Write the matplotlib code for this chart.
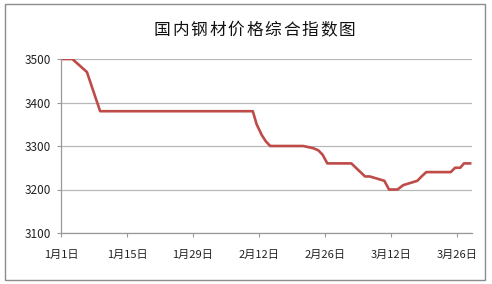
import matplotlib
matplotlib.use("Agg")
import matplotlib.pyplot as plt
from matplotlib.patches import Rectangle

plt.rcParams['font.family'] = ['Noto Sans CJK SC', 'DejaVu Sans']

title = "国内钢材价格综合指数图"
days = [0, 2.4, 5.5, 8.3, 40.7, 41.5, 42.6, 43.5, 44.4, 51.4, 53.5, 54.6, 55.5, 56.5,
        61.6, 64.5, 65.5, 68.6, 69.6, 71.4, 72.6, 75.6, 76.5, 77.5, 82.7, 83.6, 84.7, 85.5, 86.8]
values = [3500, 3500, 3470, 3380, 3380, 3350, 3325, 3310, 3300, 3300, 3295, 3290, 3280, 3260,
          3260, 3230, 3230, 3220, 3200, 3200, 3210, 3220, 3230, 3240, 3240, 3250, 3250, 3260, 3260]
tick_days = [0, 14, 28, 42, 56, 70, 84]
tick_labels = ["1月1日", "1月15日", "1月29日", "2月12日", "2月26日", "3月12日", "3月26日"]
y_ticks = [3100, 3200, 3300, 3400, 3500]

fig = plt.figure(figsize=(4.92, 2.84), dpi=100)
fig.patches.append(Rectangle((5/492, 4/284), 480/492, 276/284, transform=fig.transFigure,
                             fill=False, edgecolor='#8c8c8c', linewidth=1))
ax = fig.add_axes([61/492, 1-233/284, (472-61)/492, (233-59)/284])
ax.plot(days, values, color='#BE4B48', linewidth=1.9, solid_joinstyle='round')
ax.set_xlim(0, 87.2)
ax.set_ylim(3100, 3500)
ax.set_yticks(y_ticks)
ax.set_yticklabels([str(v) for v in y_ticks], fontsize=8.5, color='#222222')
ax.set_xticks(tick_days)
ax.set_xticklabels(tick_labels, fontsize=8, color='#222222')
ax.tick_params(axis='x', length=3, pad=9, color='#999999')
ax.tick_params(axis='y', length=3, pad=4, color='#999999')
ax.grid(axis='y', color='#b8b8b8', linewidth=0.9)
ax.set_axisbelow(True)
for s in ['top', 'right']:
    ax.spines[s].set_visible(False)
for s in ['left', 'bottom']:
    ax.spines[s].set_color('#999999')
    ax.spines[s].set_linewidth(0.9)

# title, drawn character by character to reproduce its letter spacing
x0, x1 = 162, 347
n = len(title)
for i, ch in enumerate(title):
    xc = x0 + (x1 - x0) * i / (n - 1)
    fig.text(xc / 492, 1 - 30 / 284, ch, ha='center', va='center',
             fontsize=12, color='#111111')
fig.savefig("out.png", dpi=100)
